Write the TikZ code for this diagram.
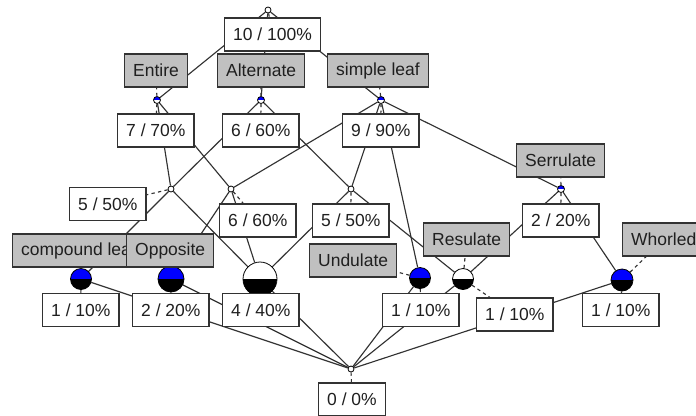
\documentclass[tikz,border=0pt]{standalone}
\usepackage{fontspec}
\setmainfont{Liberation Sans}
\usetikzlibrary{backgrounds}
\definecolor{attgray}{RGB}{192,192,192}
\definecolor{linegray}{RGB}{50,50,50}
\begin{document}
\begin{tikzpicture}[x=0.75pt,y=-0.75pt,
  edge/.style={draw=linegray, line width=0.85pt},
  lbl/.style={draw=linegray, line width=0.85pt, dash pattern=on 2.5pt off 2.5pt},
  ext/.style={draw=linegray, fill=white, line width=1pt, inner xsep=6.4pt, inner ysep=0pt,
    minimum height=24.75pt, anchor=west, font=\fontsize{13.1}{15}\selectfont, text=black!88},
  att/.style={ext, fill=attgray},
  concept/.style n args={3}{circle, draw=black, line width=0.6pt, inner sep=0pt, minimum size=#1,
    path picture={\fill[#2] (path picture bounding box.north west) rectangle (path picture bounding box.east);
                  \fill[#3] (path picture bounding box.west) rectangle (path picture bounding box.south east);}}
]
\useasboundingbox (0,0) rectangle (696,415);
\clip (0,0) rectangle (696,415);

% concepts
\node[concept={4.5pt}{white}{white}] (T) at (268,10) {};
\node[concept={5.25pt}{blue}{white}] (E) at (157,100) {};
\node[concept={5.25pt}{blue}{white}] (A) at (261,100) {};
\node[concept={5.25pt}{blue}{white}] (S) at (381,100) {};
\node[concept={4.5pt}{white}{white}] (c1) at (171,189) {};
\node[concept={4.5pt}{white}{white}] (c2) at (231,189) {};
\node[concept={4.5pt}{white}{white}] (c3) at (351,189) {};
\node[concept={5.25pt}{blue}{white}] (Se) at (561,189) {};
\node[concept={15.75pt}{blue}{black}] (CL) at (81,279) {};
\node[concept={19.5pt}{blue}{black}] (Op) at (171,279) {};
\node[concept={25.5pt}{white}{black}] (Big) at (260,279) {};
\node[concept={15.75pt}{blue}{black}] (Un) at (420,278) {};
\node[concept={15.75pt}{white}{black}] (Re) at (463,279) {};
\node[concept={16.5pt}{blue}{black}] (Wh) at (622,280) {};
\node[concept={4.5pt}{white}{white}] (B) at (351,369) {};

% extent labels
\node[ext] (lT) at (224,34.5) {10 / 100\%};
\node[ext] (lE) at (117,130.5) {7 / 70\%};
\node[ext] (lA) at (222,130.5) {6 / 60\%};
\node[ext] (lS) at (342,130.5) {9 / 90\%};
\node[ext] (l1) at (69,204) {5 / 50\%};
\node[ext] (l2) at (219,220.5) {6 / 60\%};
\node[ext] (l3) at (312,220.5) {5 / 50\%};
\node[ext] (lSe) at (522,220.5) {2 / 20\%};
\node[ext] (lCL) at (42,310) {1 / 10\%};
\node[ext] (lOp) at (132,310) {2 / 20\%};
\node[ext] (lBig) at (222,310) {4 / 40\%};
\node[ext] (lUn) at (382,310) {1 / 10\%};
\node[ext] (lRe) at (476,314.5) {1 / 10\%};
\node[ext] (lWh) at (582,310) {1 / 10\%};
\node[ext] (lB) at (318,399.5) {0 / 0\%};

% attribute labels
\node[att] (aE) at (124,70.5) {Entire};
\node[att] (aA) at (217,70.5) {Alternate};
\node[att] (aS) at (327,70.5) {simple leaf};
\node[att] (aSe) at (516,160.5) {Serrulate};
\node[att] (aCL) at (12,250.5) {compound leaf};
\node[att] (aOp) at (126,250.5) {Opposite};
\node[att] (aUn) at (309,260.5) {Undulate};
\node[att] (aRe) at (423,239.5) {Resulate};
\node[att] (aWh) at (622,239.5) {Whorled};

\begin{scope}[on background layer]
  \fill[white] (0,0) rectangle (696,415);
  \foreach \a/\b in {T/E, T/A, T/S, E/c1, E/c2, A/c1, A/c3, S/c2, S/c3, S/Un, S/Se,
                     c1/CL, c1/Big, c2/Op, c2/Big, c3/Big, c3/Re, Se/Re, Se/Wh,
                     CL/B, Op/B, Big/B, Un/B, Re/B, Wh/B}
    \draw[edge] (\a) -- (\b);
  \foreach \a/\b in {T/lT, E/lE, E/aE, A/lA, A/aA, S/lS, S/aS, c1/l1, c2/l2, c3/l3,
                     Se/lSe, Se/aSe, CL/lCL, CL/aCL, Op/lOp, Op/aOp, Big/lBig,
                     Un/lUn, Un/aUn, Re/lRe, Re/aRe, Wh/lWh, Wh/aWh, B/lB}
    \draw[lbl] (\a) -- (\b);
\end{scope}
\end{tikzpicture}
\end{document}
